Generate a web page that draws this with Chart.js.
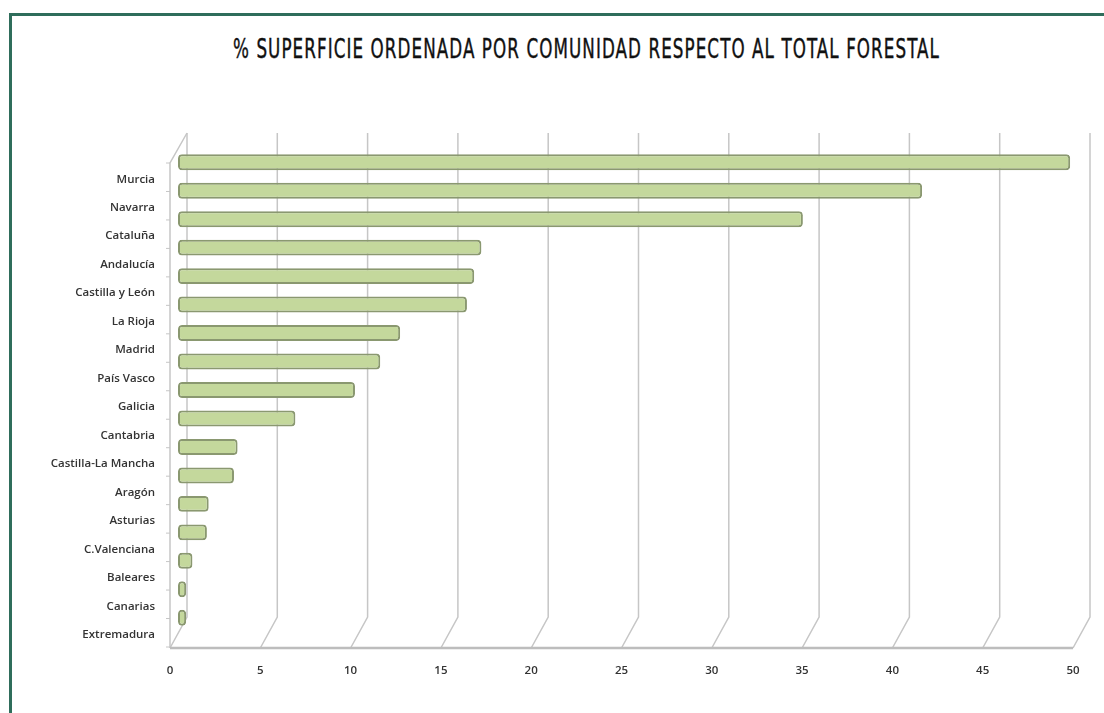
<!DOCTYPE html>
<html>
<head>
<meta charset="utf-8">
<script src="https://cdn.jsdelivr.net/npm/chart.js@4/dist/chart.umd.min.js"></script>
<style>
    html, body { margin: 0; padding: 0; background: #fff; }
    #wrap { position: relative; width: 1104px; height: 713px; overflow: hidden; }
    #frame {
        position: absolute; left: 9px; top: 13px; width: 1110px; height: 720px;
        border-top: 3px solid #2f6d5b; border-left: 3px solid #2f6d5b;
    }
    #titulo {
        position: absolute; left: 0; top: 34px; white-space: nowrap;
        font-family: "Liberation Sans Narrow", "DejaVu Sans Condensed", "Liberation Sans", sans-serif;
        font-size: 26px; color: #111; letter-spacing: 1.5px;
        -webkit-text-stroke: 0.4px #111;
        transform-origin: 0 0;
    }
    #grafico { position: absolute; left: 0; top: 0; }
</style>
</head>
<body>
<div id="wrap">
    <div id="frame"></div>
    <div id="titulo">% SUPERFICIE ORDENADA POR COMUNIDAD RESPECTO AL TOTAL FORESTAL</div>
    <canvas id="grafico" width="1104" height="713"></canvas>
</div>
<script>

const comunidades = [
    "Murcia", "Navarra", "Cataluña", "Andalucía", "Castilla y León",
    "La Rioja", "Madrid", "País Vasco", "Galicia", "Cantabria",
    "Castilla-La Mancha", "Aragón", "Asturias", "C.Valenciana",
    "Baleares", "Canarias", "Extremadura"
];

const porcentajes = [
    49.4, 41.2, 34.6, 16.8, 16.4,
    16.0, 12.3, 11.2, 9.8, 6.5,
    3.3, 3.1, 1.7, 1.6,
    0.8, 0.45, 0.45
];

const ejeX = { min: 0, max: 50, paso: 5 };

/* =======================
   TITULO
======================= */

function ajustarTitulo() {
    const t = document.getElementById("titulo");
    const ancho = t.getBoundingClientRect().width;
    const escala = 707 / ancho;
    t.style.transform = "scaleX(" + escala + ")";
    t.style.left = "233px";
}

/* =======================
   FONDO 3D
======================= */

const fondo3d = {
    id: "fondo3d",
    beforeDatasetsDraw(chart) {

        const ctx = chart.ctx;
        const xs = chart.scales.x;
        const ys = chart.scales.y;
        const area = chart.chartArea;

        const arriba = area.top - 15;
        const fondo = area.bottom - 15;
        const frente = area.bottom + 16;

        ctx.save();
        ctx.strokeStyle = "#c6c6c6";
        ctx.lineWidth = 1.5;

        for (let v = ejeX.min; v <= ejeX.max; v += ejeX.paso) {

            const p = xs.getPixelForValue(v);

            ctx.beginPath();
            ctx.moveTo(p + 9, arriba);
            ctx.lineTo(p + 9, fondo);
            ctx.lineTo(p - 8, frente);
            ctx.stroke();
        }

        const x0 = xs.getPixelForValue(ejeX.min);

        // pared izquierda
        ctx.beginPath();
        ctx.moveTo(x0 + 9, arriba);
        ctx.lineTo(x0 - 8, arriba + 30);
        ctx.lineTo(x0 - 8, frente);
        ctx.stroke();

        // eje frontal
        ctx.strokeStyle = "#bdbdbd";
        ctx.lineWidth = 2.5;
        ctx.beginPath();
        ctx.moveTo(x0 - 8, frente);
        ctx.lineTo(xs.getPixelForValue(ejeX.max) - 8, frente);
        ctx.stroke();

        // marcas de categoria
        ctx.strokeStyle = "#c6c6c6";
        ctx.lineWidth = 1;
        const banda = (ys.bottom - ys.top) / comunidades.length;

        for (let k = 0; k <= comunidades.length; k++) {

            const y = ys.top + k * banda + 15;

            ctx.beginPath();
            ctx.moveTo(x0 - 12, y);
            ctx.lineTo(x0 - 8, y);
            ctx.stroke();
        }

        ctx.restore();
    }
};

/* =======================
   GRAFICO
======================= */

function cargarGrafico() {

    new Chart(
        document.getElementById("grafico"),
        {
            type: "bar",
            data: {
                labels: comunidades,
                datasets: [{
                    data: porcentajes,
                    backgroundColor: "#c4d89c",
                    borderColor: "#8a9870",
                    borderWidth: 2,
                    borderRadius: 4,
                    borderSkipped: false,
                    barPercentage: 0.56,
                    categoryPercentage: 1
                }]
            },
            options: {
                indexAxis: "y",
                responsive: false,
                animation: false,
                devicePixelRatio: 1,
                layout: {
                    padding: { top: 148, right: 23, bottom: 0, left: 0 }
                },
                plugins: {
                    legend: { display: false },
                    tooltip: { enabled: false }
                },
                scales: {
                    y: {
                        afterFit: s => {
                            s.width = 178;
                            s.paddingTop = 0;
                            s.paddingBottom = 0;
                        },
                        grid: { display: false, drawTicks: false },
                        border: { display: false },
                        ticks: {
                            padding: 23,
                            labelOffset: 17,
                            color: "#333",
                            font: { family: "Open Sans", size: 11.5, weight: "600" }
                        }
                    },
                    x: {
                        min: ejeX.min,
                        max: ejeX.max,
                        afterFit: s => {
                            s.height = 81;
                            s.paddingLeft = 0;
                            s.paddingRight = 0;
                        },
                        grid: { display: false, drawTicks: false },
                        border: { display: false },
                        ticks: {
                            stepSize: ejeX.paso,
                            padding: 32,
                            labelOffset: -8,
                            color: "#333",
                            font: { family: "Open Sans", size: 11.5, weight: "600" }
                        }
                    }
                }
            },
            plugins: [fondo3d]
        }
    );
}

document.addEventListener("DOMContentLoaded", () => {

    ajustarTitulo();

    cargarGrafico();

});
</script>
</body>
</html>
